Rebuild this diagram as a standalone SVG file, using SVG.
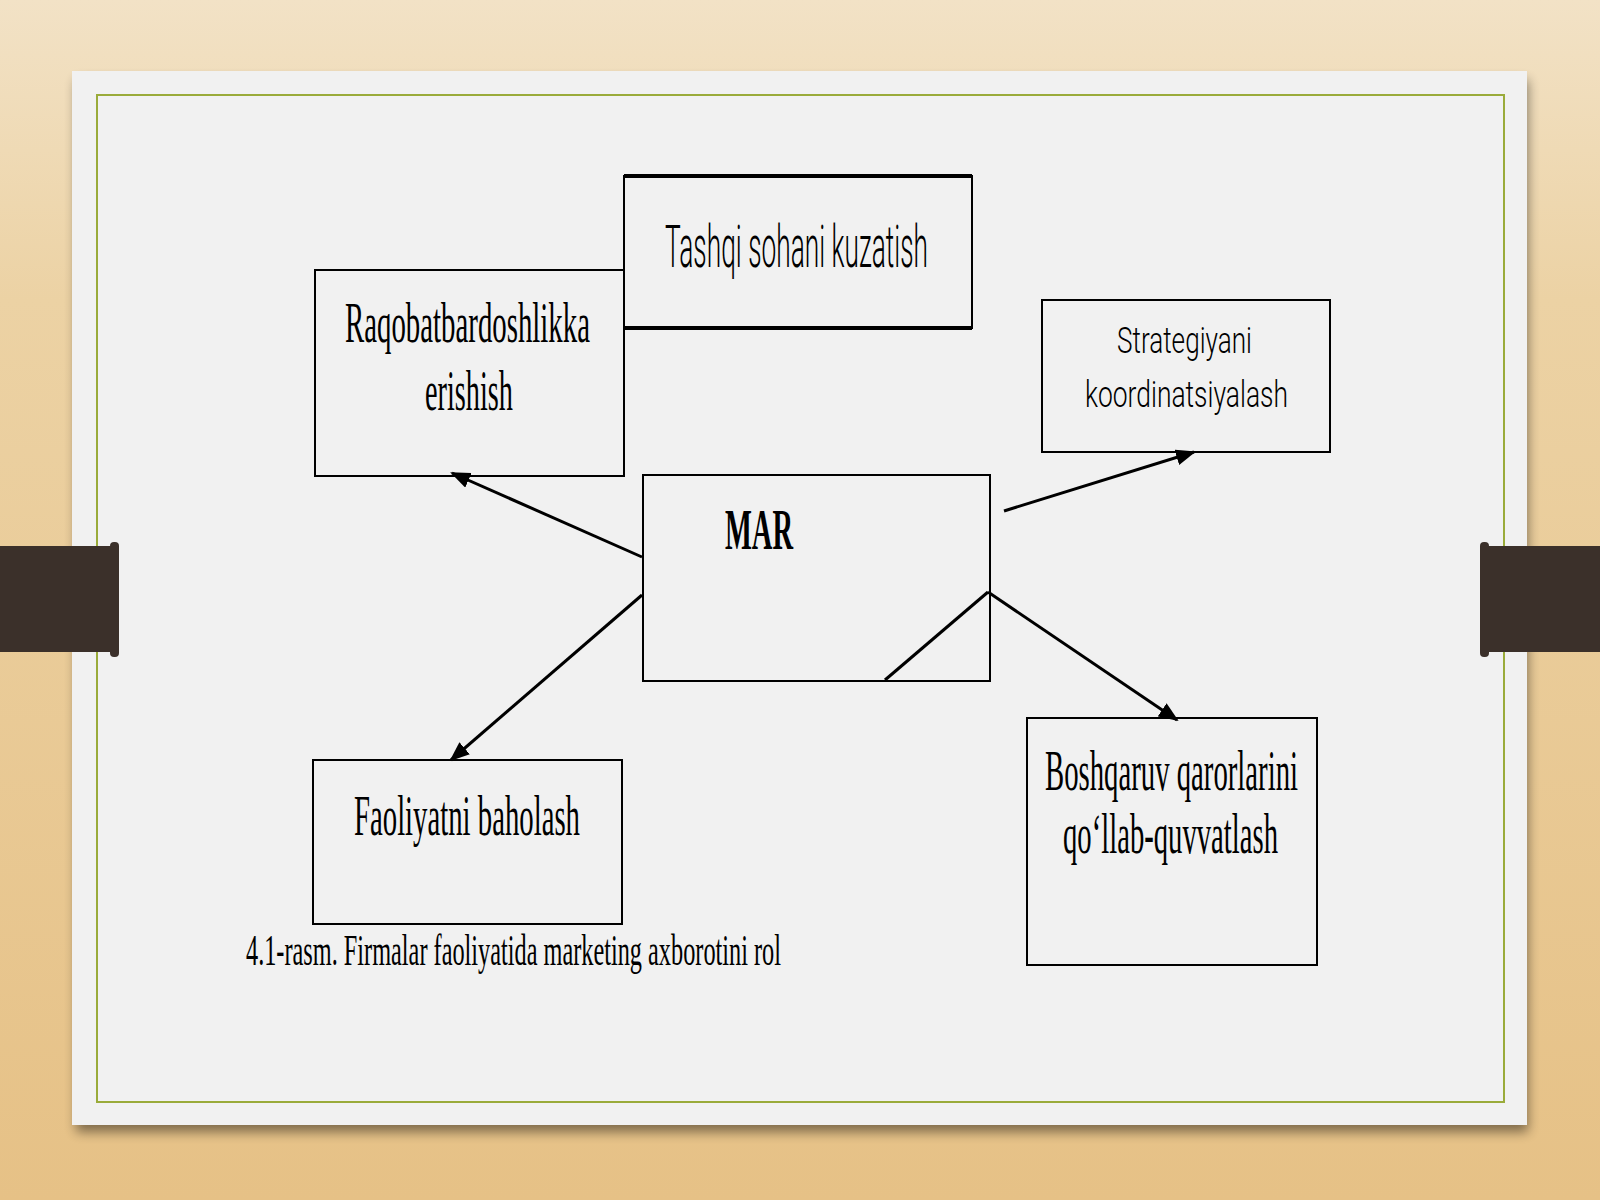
<svg xmlns="http://www.w3.org/2000/svg" width="1600" height="1200" viewBox="0 0 1600 1200">
<defs>
<linearGradient id="wood" x1="0" y1="0" x2="0" y2="1">
<stop offset="0" stop-color="#f2e2c6"/>
<stop offset="0.25" stop-color="#ecd2a4"/>
<stop offset="1" stop-color="#e6c186"/>
</linearGradient>
<filter id="sh" x="-5%" y="-5%" width="110%" height="115%">
<feGaussianBlur stdDeviation="6"/>
</filter>
<marker id="ah" markerUnits="userSpaceOnUse" markerWidth="20" markerHeight="16" refX="18" refY="8" orient="auto">
<path d="M0,0 L20,8 L0,16 z" fill="#000"/>
</marker>
<style>
.box{fill:none;stroke:#000;stroke-width:2}
.ser{font-family:"Liberation Serif","Times New Roman",serif;fill:#000}
.san{font-family:"Roboto","Liberation Sans",Arial,sans-serif;font-weight:300;fill:#000}
.con{stroke:#000;stroke-width:3;fill:none}
</style>
</defs>
<rect x="0" y="0" width="1600" height="1200" fill="url(#wood)"/>
<rect x="76" y="80" width="1452" height="1052" fill="#000" opacity="0.45" filter="url(#sh)"/>
<rect x="72" y="71" width="1455" height="1054" fill="#f1f1f1"/>
<rect x="97" y="95" width="1407" height="1007" fill="none" stroke="#9aab3a" stroke-width="2"/>
<g id="clip-left">
<rect x="0" y="546" width="116" height="106" fill="#3b302a"/>
<rect x="110" y="542" width="9" height="115" rx="4" fill="#3b302a"/>
</g>
<g id="clip-right">
<rect x="1484" y="546" width="116" height="106" fill="#3b302a"/>
<rect x="1480" y="542" width="9" height="115" rx="4" fill="#3b302a"/>
</g>
<g id="connectors">
<line class="con" x1="642" y1="557" x2="452" y2="473" marker-end="url(#ah)"/>
<line class="con" x1="642" y1="595" x2="451" y2="760" marker-end="url(#ah)"/>
<line class="con" x1="1004" y1="511" x2="1194" y2="452" stroke-width="2.5" marker-end="url(#ah)"/>
<line class="con" x1="988" y1="592" x2="1177" y2="720" marker-end="url(#ah)"/>
<line class="con" x1="988" y1="592" x2="885" y2="680"/>
</g>
<g id="node-tashqi">
<rect x="624" y="176" width="348" height="152" fill="#f1f1f1" stroke="#000" stroke-width="2"/>
<line x1="624" y1="176" x2="972" y2="176" stroke="#000" stroke-width="4"/>
<line x1="624" y1="328" x2="972" y2="328" stroke="#000" stroke-width="4"/>
<text class="san" x="665" y="267" font-size="60" textLength="263" lengthAdjust="spacingAndGlyphs">Tashqi sohani kuzatish</text>
</g>
<g id="node-raqobat">
<rect class="box" x="315" y="270" width="309" height="206"/>
<text class="ser" x="345" y="342" font-size="58" textLength="245" lengthAdjust="spacingAndGlyphs">Raqobatbardoshlikka</text>
<text class="ser" x="425" y="410" font-size="58" textLength="88" lengthAdjust="spacingAndGlyphs">erishish</text>
</g>
<g id="node-strategiya">
<rect class="box" x="1042" y="300" width="288" height="152"/>
<text class="san" x="1117" y="353" font-size="36" textLength="135" lengthAdjust="spacingAndGlyphs">Strategiyani</text>
<text class="san" x="1085" y="407" font-size="36" textLength="203" lengthAdjust="spacingAndGlyphs">koordinatsiyalash</text>
</g>
<g id="node-mar">
<rect class="box" x="643" y="475" width="347" height="206"/>
<text class="ser" x="725" y="549" font-size="58" font-weight="bold" textLength="68" lengthAdjust="spacingAndGlyphs">MAR</text>
</g>
<g id="node-faoliyat">
<rect class="box" x="313" y="760" width="309" height="164"/>
<text class="ser" x="354" y="835" font-size="56" textLength="226" lengthAdjust="spacingAndGlyphs">Faoliyatni baholash</text>
</g>
<g id="node-boshqaruv">
<rect class="box" x="1027" y="718" width="290" height="247"/>
<text class="ser" x="1045" y="790" font-size="56" textLength="253" lengthAdjust="spacingAndGlyphs">Boshqaruv qarorlarini</text>
<text class="ser" x="1063" y="853" font-size="56" textLength="215" lengthAdjust="spacingAndGlyphs">qo‘llab-quvvatlash</text>
</g>
<text id="caption" class="ser" x="246" y="965" font-size="45" textLength="535" lengthAdjust="spacingAndGlyphs">4.1-rasm. Firmalar faoliyatida marketing axborotini rol</text>
</svg>
